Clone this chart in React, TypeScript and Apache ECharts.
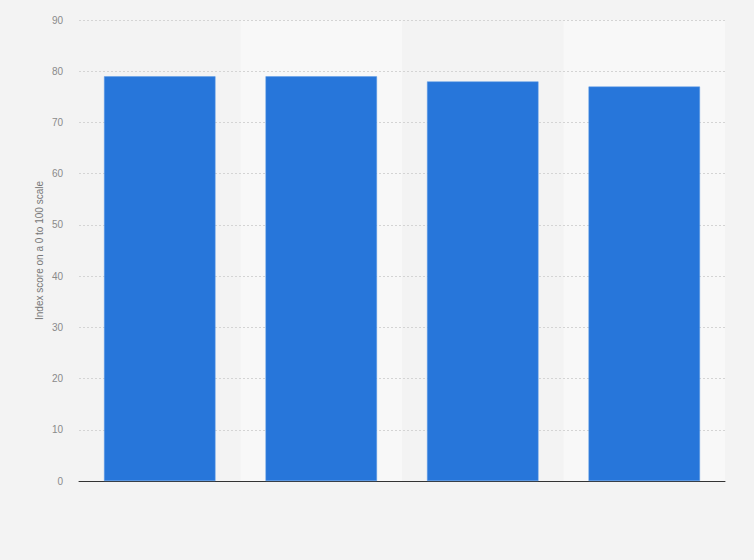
import React, { useEffect, useRef } from "react";
import * as echarts from "echarts";

const categories = ["A", "B", "C", "D"];
const values = [79, 79, 78, 77];
const yTicks = { min: 0, max: 90, interval: 10 };
const yTitle = "Index score on a 0 to 100 scale";

export default function App() {
  const ref = useRef<HTMLDivElement>(null);
  useEffect(() => {
    document.body.style.margin = "0";
    const chart = echarts.init(ref.current!, null, { renderer: "svg" });
    chart.setOption({
      animation: false,
      backgroundColor: "#f3f3f3",
      textStyle: { fontFamily: "Liberation Sans, Arial, sans-serif" },
      grid: { left: 79, right: 29, top: 20, bottom: 79 },
      xAxis: {
        type: "category",
        data: categories,
        z: 0,
        axisLabel: { show: false },
        axisTick: { show: false },
        axisLine: { show: true, lineStyle: { color: "#333333", width: 1 } },
        splitArea: { show: true, areaStyle: { color: ["rgba(0,0,0,0)", "#f8f8f8"] } },
      },
      yAxis: {
        type: "value",
        z: 1,
        min: yTicks.min,
        max: yTicks.max,
        interval: yTicks.interval,
        name: yTitle,
        nameLocation: "middle",
        nameGap: 35,
        nameMoveOverlap: false,
        nameTextStyle: { color: "#777777", fontSize: 10 },
        axisLine: { show: false },
        axisTick: { show: false },
        axisLabel: { color: "#8a8a8a", fontSize: 10, margin: 16 },
        splitLine: { showMinLine: false, lineStyle: { color: "#d4d4d4", type: [2, 2], width: 1 } },
      },
      series: [
        {
          type: "bar",
          z: 3,
          data: values,
          barCategoryGap: "31%",
          itemStyle: { color: "#2776da", borderColor: "#5a9ae6", borderWidth: 0.5 },
        },
      ],
    });
    return () => chart.dispose();
  }, []);
  return <div ref={ref} style={{ width: 754, height: 560 }} />;
}
